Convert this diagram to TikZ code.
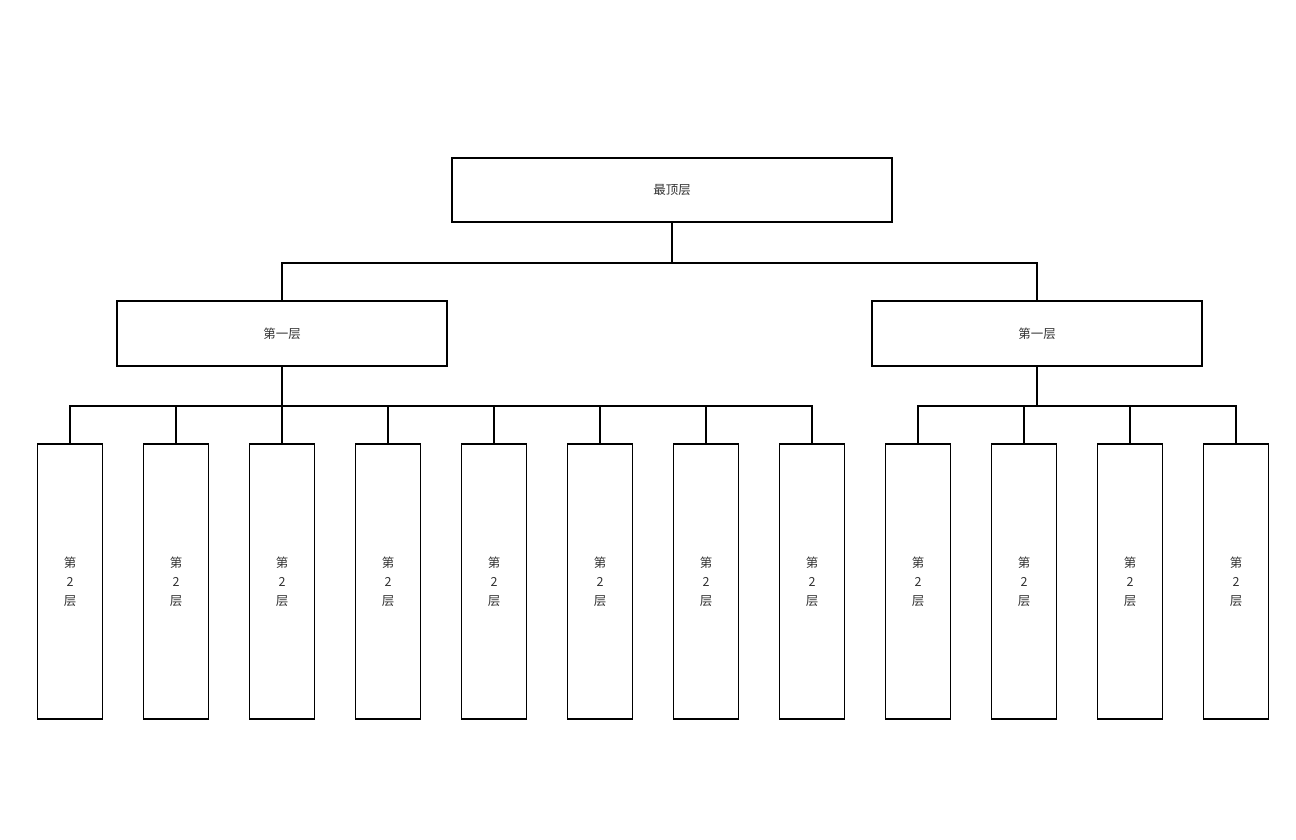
\documentclass[tikz,border=0pt]{standalone}
\usepackage{fontspec}
\newfontfamily\cjk{Noto Sans CJK SC}
\begin{document}
\begin{tikzpicture}[x=1pt,y=-1pt,
    box/.style={draw,line width=1.5pt,inner sep=0pt,align=center,font=\cjk\fontsize{12.5}{19}\selectfont,text=black!80},
    link/.style={line width=1.5pt}]
    \useasboundingbox (0,0) rectangle (1296,840);
    % top and first layer
    \node[box,minimum width=440,minimum height=64] (top) at (672,190) {最顶层};
    \node[box,minimum width=330,minimum height=65] (lefta) at (282,333.5) {第一层};
    \node[box,minimum width=330,minimum height=65] (righta) at (1037,333.5) {第一层};
    \draw[link] (top.south) -- ++(0,40) -| (lefta.north);
    \draw[link] (top.south) -- ++(0,40) -| (righta.north);
    % second layer
    \foreach \i in {0,...,11}
        \node[box,minimum width=65,minimum height=275] (leaf\i) at (70+106*\i,581.5) {第\\2\\层};
    \foreach \i in {0,...,7}
        \draw[link] (lefta.south) -- ++(0,39) -| (leaf\i.north);
    \foreach \i in {8,...,11}
        \draw[link] (righta.south) -- ++(0,39) -| (leaf\i.north);
\end{tikzpicture}
\end{document}
